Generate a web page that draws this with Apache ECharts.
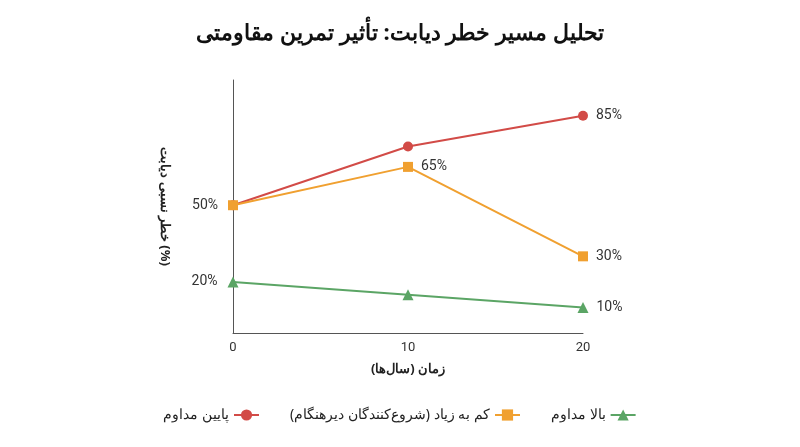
<!DOCTYPE html>
<html><head><meta charset="utf-8">
<script src="https://cdn.jsdelivr.net/npm/echarts@6/dist/echarts.min.js"></script>
<style>html,body{margin:0;padding:0;background:#fff}#c{width:800px;height:447px}</style>
</head><body><div id="c"></div>
<script>
const years = [0, 10, 20];
const lowSteady = [50, 73, 85];
const lowToHigh = [50, 65, 30];
const highSteady = [20, 15, 10];
const names = ['پایین مداوم', 'کم به زیاد (شروع‌کنندگان دیرهنگام)', 'بالا مداوم'];
const labelShow = [[true,false,true],[false,true,true],[true,false,true]];

const font = 'Roboto, "Noto Sans", sans-serif';
function mk(name, vals, color, symbol, shows){
  return {
    name, type:'line', symbol, symbolSize: symbol==='triangle'?11:10,
    data: vals.map((v,i)=>({value:[years[i],v], label:{show:shows[i], position: i===0?'left':'right', distance:i===0?10:8}})),
    itemStyle:{color}, lineStyle:{color, width:2},
    label:{formatter: p=>p.value[1]+'%', color:'#333', fontSize:14, fontFamily:font}
  };
}
const chart = echarts.init(document.getElementById('c'));
chart.setOption({
  animation:false,
  title:{text:'تحلیل مسیر خطر دیابت: تأثیر تمرین مقاومتی', left:'center', top:18,
    textStyle:{fontSize:22, fontWeight:'bold', color:'#111', fontFamily:'"Noto Sans", sans-serif'}},
  grid:{left:233, right:217, top:80, bottom:114},
  xAxis:{type:'value', min:0, max:20, interval:10, name:'زمان (سال‌ها)', nameLocation:'middle', nameGap:30,
    nameTextStyle:{fontSize:13, fontWeight:'bold', color:'#222', fontFamily:'"Noto Sans", sans-serif'},
    axisLine:{lineStyle:{color:'#555'}}, axisTick:{show:false}, splitLine:{show:false},
    axisLabel:{color:'#333', fontSize:13, fontFamily:font}},
  yAxis:{type:'value', min:0, max:99, name:'خطر نسبی دیابت (%)', nameLocation:'middle', nameGap:62, nameRotate:-90,
    nameTextStyle:{fontSize:13, fontWeight:'bold', color:'#222', fontFamily:'"Noto Sans", sans-serif'},
    axisLine:{show:true, lineStyle:{color:'#555'}}, axisTick:{show:false}, splitLine:{show:false}, axisLabel:{show:false}},
  legend:{bottom:20, left:'center', align:'right', itemGap:30, itemWidth:25,
    textStyle:{fontSize:14, color:'#222', fontFamily:'"Noto Sans", sans-serif'},
    data:[names[0], names[1], names[2]]},
  series:[
    mk(names[0], lowSteady, '#d24b47', 'circle', labelShow[0]),
    mk(names[1], lowToHigh, '#f0a030', 'rect', labelShow[1]),
    mk(names[2], highSteady, '#5ba565', 'triangle', labelShow[2])
  ]
});
</script></body></html>
